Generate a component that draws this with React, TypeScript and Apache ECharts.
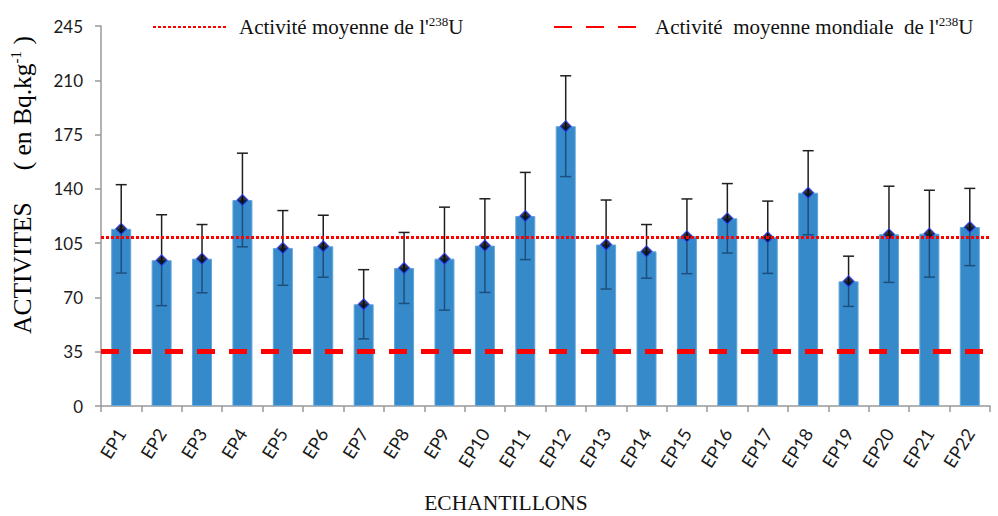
import React, { useEffect, useRef } from "react";
import * as echarts from "echarts";

const categories = ["EP1","EP2","EP3","EP4","EP5","EP6","EP7","EP8","EP9","EP10","EP11","EP12","EP13","EP14","EP15","EP16","EP17","EP18","EP19","EP20","EP21","EP22"];
const activity = [114.2, 94.0, 95.0, 132.8, 101.9, 103.0, 65.6, 89.0, 95.0, 103.4, 122.5, 180.4, 104.1, 99.7, 109.4, 121.0, 108.8, 137.5, 80.4, 110.7, 111.1, 115.4];
const uncertainty = [28.5, 29.3, 22.0, 30.2, 24.1, 20.0, 22.3, 22.9, 33.2, 30.2, 28.1, 32.5, 28.7, 17.3, 24.1, 22.4, 23.3, 27.1, 16.2, 31.0, 28.0, 24.9];
const meanActivity = 108.8;
const worldMeanActivity = 35;
const yTicks = [0, 35, 70, 105, 140, 175, 210, 245];

const meanName = "Activité moyenne de l'238U";
const worldName = "Activité moyenne mondiale de l'238U";

const SERIF = "'Liberation Serif', 'Times New Roman', serif";
const SANS = "Lato, 'Open Sans', sans-serif";

const legendRich = {
  a: { fontFamily: SERIF, fontSize: 21, color: "#111" },
  sup: { fontFamily: SERIF, fontSize: 13, color: "#111", padding: [0, 0, 11, 0] },
};
const titleRich = {
  a: { fontFamily: SERIF, fontSize: 25.5, color: "#111" },
  sup: { fontFamily: SERIF, fontSize: 15, color: "#111", padding: [0, 0, 13, 0] },
};

export default function App() {
  const ref = useRef<HTMLDivElement>(null);
  useEffect(() => {
    if (!ref.current) return;
    const chart = echarts.init(ref.current, null, { renderer: "svg" });
    const errData = activity.map((v, i) => [i, v - uncertainty[i], v + uncertainty[i], v]);
    chart.setOption({
      animation: false,
      backgroundColor: "#fff",
      grid: { left: 101, right: 8, top: 26, bottom: 110 },
      legend: [
        {
          data: [meanName],
          left: 147,
          top: 10,
          itemWidth: 73,
          itemHeight: 14,
          itemStyle: { opacity: 0 },
          formatter: () => "{a|Activité moyenne de l'}{sup|238}{a|U}",
          textStyle: { rich: legendRich, padding: [0, 0, 0, 8] },
        },
        {
          data: [worldName],
          left: 548,
          top: 10,
          itemWidth: 82,
          itemHeight: 14,
          itemStyle: { opacity: 0 },
          formatter: () => "{a|Activité  moyenne mondiale  de l'}{sup|238}{a|U}",
          textStyle: { rich: legendRich, padding: [0, 0, 0, 14] },
        },
      ],
      xAxis: {
        type: "category",
        data: categories,
        boundaryGap: true,
        axisLine: { show: true, lineStyle: { color: "#999", width: 1.5 } },
        axisTick: { show: true, interval: 0, length: 6, lineStyle: { color: "#999", width: 1.5 } },
        axisLabel: { interval: 0, rotate: 58, margin: 24, fontFamily: SANS, fontSize: 18, color: "#1a1a1a" },
      },
      yAxis: {
        type: "value",
        min: 0,
        max: 245,
        interval: 35,
        axisLine: { show: true, lineStyle: { color: "#999", width: 1.5 } },
        axisTick: { show: true, length: 6, lineStyle: { color: "#999", width: 1.5 } },
        splitLine: { show: false },
        axisLabel: {
          margin: 18,
          fontFamily: SANS,
          fontSize: 17,
          color: "#1a1a1a",
          formatter: (v: number) => (yTicks.includes(v) ? String(v) : ""),
        },
      },
      graphic: [
        {
          type: "text",
          x: 22,
          y: 185,
          rotation: Math.PI / 2,
          style: {
            text: "{a|ACTIVITES     ( en Bq.kg}{sup|-1}{a| )}",
            rich: titleRich,
            align: "center",
            verticalAlign: "middle",
          },
        },
        {
          type: "text",
          x: 506,
          y: 503,
          style: {
            text: "ECHANTILLONS",
            fontFamily: SERIF,
            fontSize: 21.5,
            fill: "#111",
            align: "center",
            verticalAlign: "middle",
          },
        },
      ],
      series: [
        {
          name: "Activité",
          type: "bar",
          data: activity,
          barWidth: 20,
          itemStyle: { color: "#378ac9", borderColor: "#62a6db", borderWidth: 1 },
          z: 2,
        },
        {
          name: "err",
          type: "custom",
          data: errData,
          z: 3,
          renderItem: (params: any, api: any) => {
            const i = api.value(0);
            const lo = api.coord([i, api.value(1)]);
            const hi = api.coord([i, api.value(2)]);
            const mid = api.coord([i, api.value(3)]);
            const x = lo[0];
            const cap = 5.5;
            const dark = "#1f1f1f";
            const inside = "#1c4f7d";
            return {
              type: "group",
              children: [
                { type: "line", shape: { x1: x, y1: hi[1], x2: x, y2: mid[1] }, style: { stroke: dark, lineWidth: 1.5 } },
                { type: "line", shape: { x1: x, y1: mid[1], x2: x, y2: lo[1] }, style: { stroke: inside, lineWidth: 1.5 } },
                { type: "line", shape: { x1: x - cap, y1: hi[1], x2: x + cap, y2: hi[1] }, style: { stroke: dark, lineWidth: 1.5 } },
                { type: "line", shape: { x1: x - cap, y1: lo[1], x2: x + cap, y2: lo[1] }, style: { stroke: inside, lineWidth: 1.5 } },
              ],
            };
          },
        },
        {
          name: "pts",
          type: "scatter",
          data: activity,
          symbol: "diamond",
          symbolSize: 11,
          itemStyle: { color: "#000", borderColor: "#2b3cff", borderWidth: 1.2 },
          z: 4,
        },
        {
          name: meanName,
          type: "line",
          data: [],
          symbol: "none",
          lineStyle: { color: "#ff0000", width: 3, type: [3, 2] },
          itemStyle: { color: "#ff0000" },
          markLine: {
            silent: true,
            symbol: "none",
            label: { show: false },
            lineStyle: { color: "#ff0000", width: 3, type: [3, 2] },
            data: [{ yAxis: meanActivity }],
          },
          z: 5,
        },
        {
          name: worldName,
          type: "line",
          data: [],
          symbol: "none",
          lineStyle: { color: "#ff0000", width: 5, type: [18, 14] },
          itemStyle: { color: "#ff0000" },
          markLine: {
            silent: true,
            symbol: "none",
            label: { show: false },
            lineStyle: { color: "#ff0000", width: 5, type: [18, 14] },
            data: [{ yAxis: worldMeanActivity }],
          },
          z: 5,
        },
      ],
    });
    return () => chart.dispose();
  }, []);
  return <div ref={ref} style={{ position: "fixed", left: 0, top: 0, width: 998, height: 516 }} />;
}
